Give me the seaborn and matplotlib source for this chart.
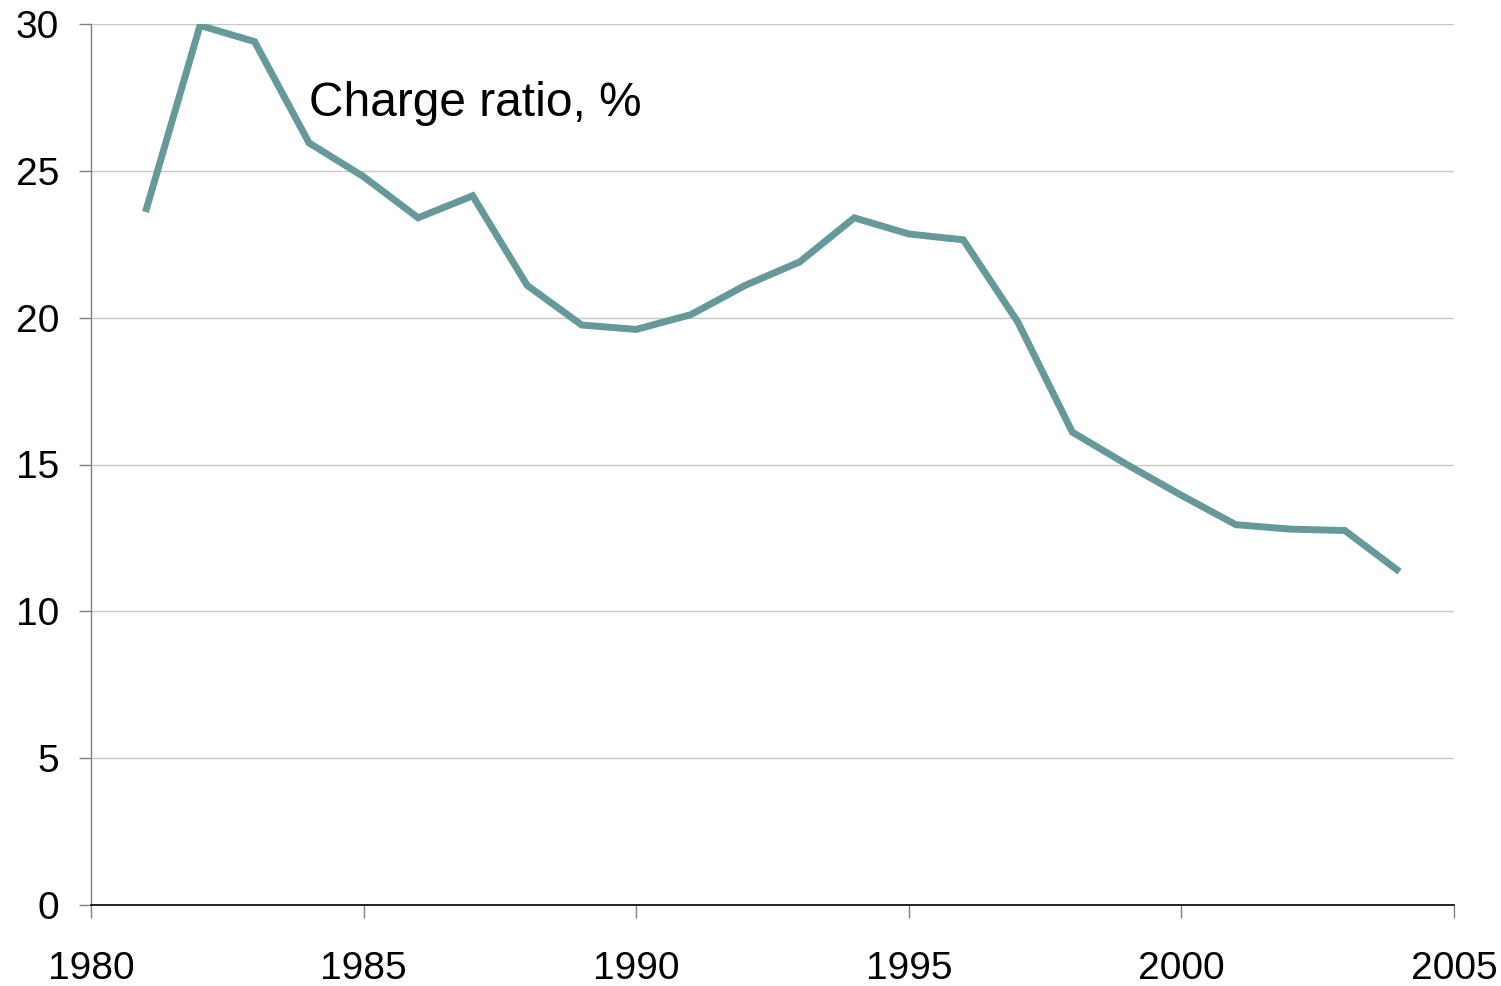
import numpy as np
import pandas as pd
import seaborn as sns
from matplotlib import pyplot as plt

# Charge ratio by year
years = list(range(1981, 2005))
charge_ratio = [23.6, 29.95, 29.4, 25.95, 24.8, 23.4, 24.15, 21.1, 19.75, 19.6,
                20.1, 21.1, 21.9, 23.4, 22.85, 22.65, 19.85, 16.1, 15.0, 13.95,
                12.95, 12.8, 12.75, 11.35]
x_ticks = [1980, 1985, 1990, 1995, 2000, 2005]
y_ticks = [0, 5, 10, 15, 20, 25, 30]

df = pd.DataFrame({"year": years, "ratio": charge_ratio})

sns.set_style("white")
plt.rcParams["font.family"] = ["Liberation Sans", "DejaVu Sans"]
plt.rcParams["text.color"] = "black"
plt.rcParams["xtick.color"] = "black"
plt.rcParams["ytick.color"] = "black"

fig, ax = plt.subplots(figsize=(15.01, 9.86), dpi=100)
fig.subplots_adjust(left=91 / 1501, right=1454 / 1501, bottom=81 / 986, top=962 / 986)

sns.lineplot(data=df, x="year", y="ratio", ax=ax, color="#669999", linewidth=5.0,
             solid_joinstyle="miter", solid_capstyle="butt")

ax.set_xlim(1980, 2005)
ax.set_ylim(0, 30)
ax.set_xticks(x_ticks)
ax.set_yticks(y_ticks)
ax.set_xlabel("")
ax.set_ylabel("")

ax.yaxis.grid(True, color="#c8c8c8", linewidth=1)
ax.set_axisbelow(True)
for side in ["top", "right"]:
    ax.spines[side].set_visible(False)
ax.spines["left"].set_color("#808080")
ax.spines["left"].set_linewidth(1)
ax.spines["bottom"].set_color("black")
ax.spines["bottom"].set_linewidth(1.2)

ax.tick_params(axis="y", direction="out", length=9, width=1, color="#808080",
               pad=14, labelsize=28, left=True, labelcolor="black")
ax.tick_params(axis="x", direction="out", length=9, width=1, color="#808080",
               pad=24, labelsize=28, bottom=True, labelcolor="black")

ax.text(1984.0, 27.3, "Charge ratio, %", fontsize=34.5, ha="left", va="center",
        color="black")

plt.savefig("out.png", dpi=100)
